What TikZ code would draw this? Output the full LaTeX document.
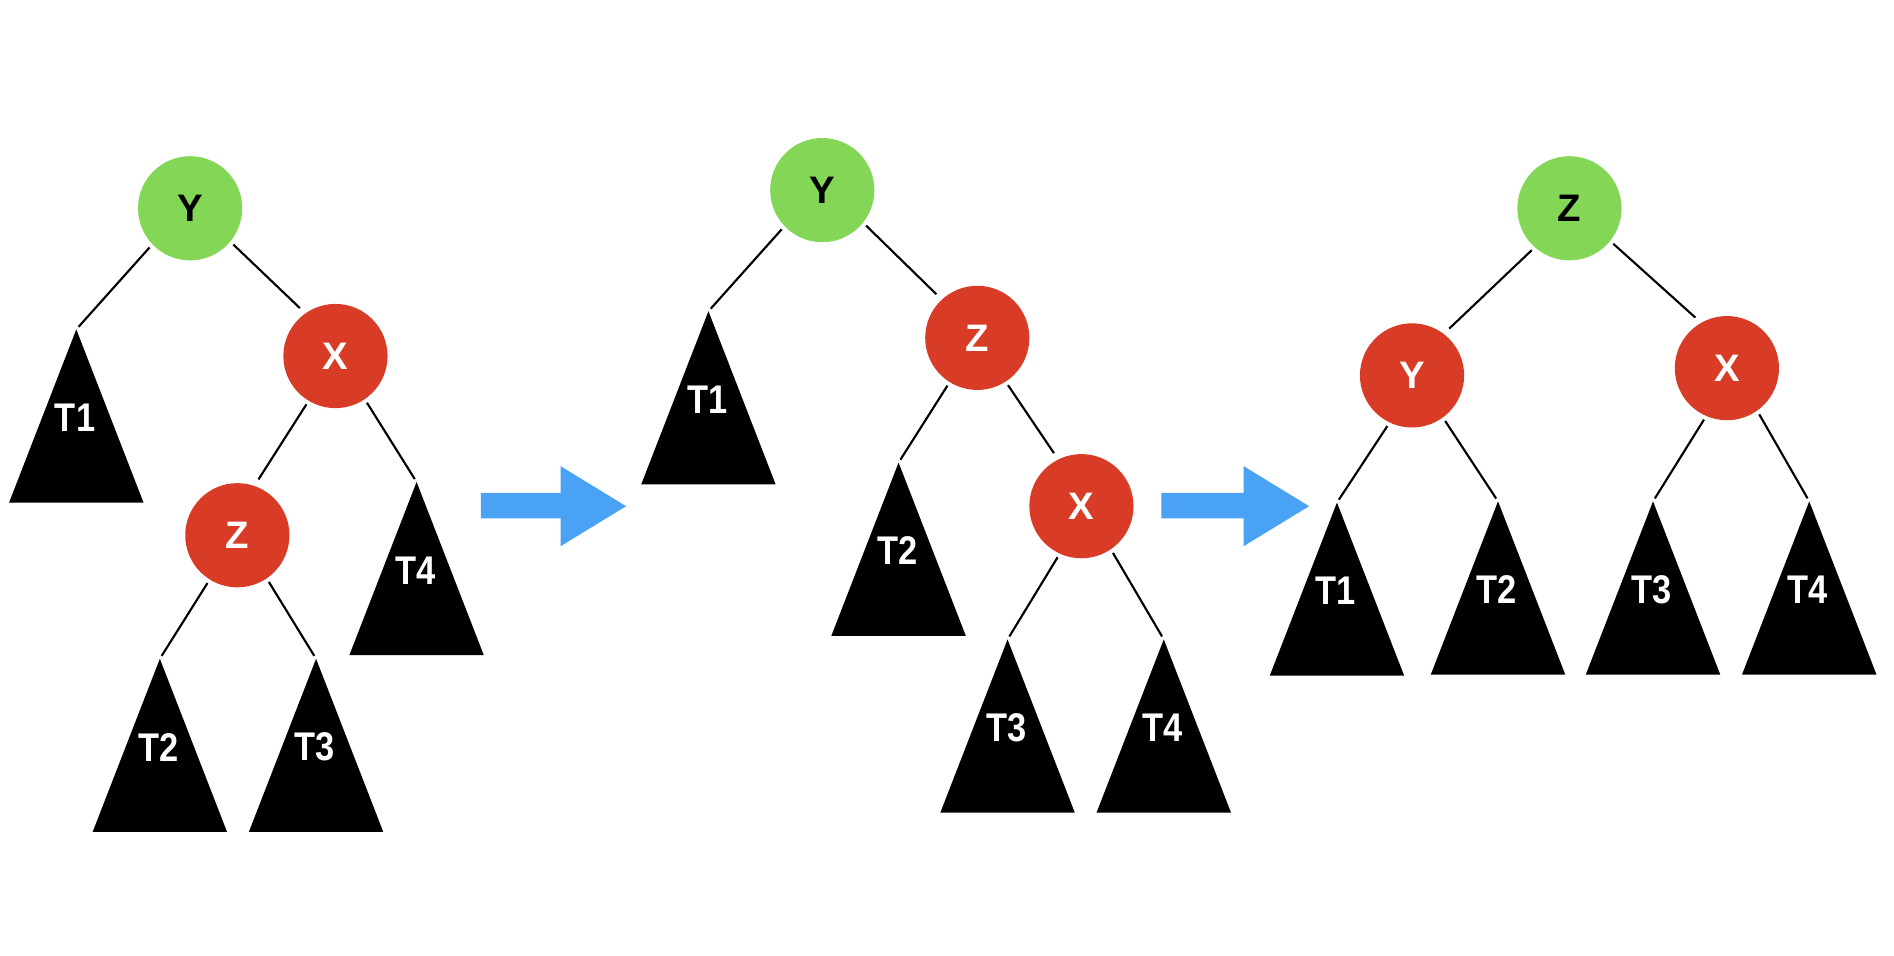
\documentclass[tikz,border=0pt]{standalone}
\usepackage{fontspec}
\setmainfont{Liberation Sans}
\newfontfamily\labfont{Liberation Sans}[FakeStretch=0.86]
\definecolor{rbgreen}{RGB}{132,214,87}
\definecolor{rbred}{RGB}{217,60,38}
\definecolor{rbblue}{RGB}{74,162,245}
\tikzset{
  rbnode/.style={circle, minimum size=0.86cm, inner sep=0pt, outer sep=1pt,
    font=\bfseries\fontsize{9}{10}\selectfont},
  gnode/.style={rbnode, fill=rbgreen, text=black},
  rnode/.style={rbnode, fill=rbred, text=white},
  tlabel/.style={inner sep=0pt, text=white, font=\labfont\bfseries\fontsize{9.4}{10}\selectfont},
  edge/.style={draw=black, line width=0.5pt, shorten >=0.8pt},
  rbarrow/.style={fill=rbblue}
}
\newcommand\subtree[4]{%
  \fill[black] (#2,#3) -- ++(-55.5,143) -- ++(111,0) -- cycle;
  \coordinate (#1) at (#2,#3);
  \node[tlabel] (#1l) at (#2-1,#3+73) {#4};}
\begin{document}
\begin{tikzpicture}[x=0.01cm,y=-0.01cm]
\useasboundingbox (0,0) rectangle (1564,789);
% ---------- tree 1
\node[gnode] (Y1) at (157,172) {Y};
\node[rnode] (X1) at (277,294) {X};
\node[rnode] (Z1) at (196,442) {Z};
\subtree{T1a}{63}{272}{T1}
\subtree{T4a}{344}{398}{T4}
\subtree{T2a}{132}{544}{T2}
\subtree{T3a}{261}{544}{T3}
\draw[edge] (Y1.-136.7) -- (T1a);
\draw[edge] (Y1.-40.5) -- (X1.126.9);
\draw[edge] (X1.-121.8) -- (Z1.70.4);
\draw[edge] (X1.-56) -- (T4a);
\draw[edge] (Z1.-122) -- (T2a);
\draw[edge] (Z1.-56.3) -- (T3a);
% ---------- arrow 1
\fill[rbarrow] (397,407) -- (463,407) -- (463,385) -- (517,418) -- (463,451) -- (463,428) -- (397,428) -- cycle;
% ---------- tree 2
\node[gnode] (Y2) at (679,157) {Y};
\node[rnode] (Z2) at (807,279) {Z};
\node[rnode] (X2) at (893,418) {X};
\subtree{T1b}{585}{257}{T1}
\subtree{T2b}{742}{382}{T2}
\subtree{T3b}{832}{528}{T3}
\subtree{T4b}{961}{528}{T4}
\draw[edge] (Y2.-136.7) -- (T1b);
\draw[edge] (Y2.-39.6) -- (Z2.133.4);
\draw[edge] (Z2.-122.7) -- (T2b);
\draw[edge] (Z2.-57) -- (X2.117.6);
\draw[edge] (X2.-115.5) -- (T3b);
\draw[edge] (X2.-56) -- (T4b);
% ---------- arrow 2
\fill[rbarrow] (959,407) -- (1027,407) -- (1027,385) -- (1081,418) -- (1027,451) -- (1027,428) -- (959,428) -- cycle;
% ---------- tree 3
\node[gnode] (Z3) at (1296,172) {Z};
\node[rnode] (Y3) at (1166,310) {Y};
\node[rnode] (X3) at (1426,304) {X};
\subtree{T1c}{1104}{415}{T1}
\subtree{T2c}{1237}{414}{T2}
\subtree{T3c}{1365}{414}{T3}
\subtree{T4c}{1494}{414}{T4}
\draw[edge] (Z3.-132.4) -- (Y3.52.9);
\draw[edge] (Z3.-39.8) -- (X3.121.9);
\draw[edge] (Y3.-116.6) -- (T1c);
\draw[edge] (Y3.-54.7) -- (T2c);
\draw[edge] (X3.-114) -- (T3c);
\draw[edge] (X3.-55.1) -- (T4c);
\end{tikzpicture}
\end{document}
